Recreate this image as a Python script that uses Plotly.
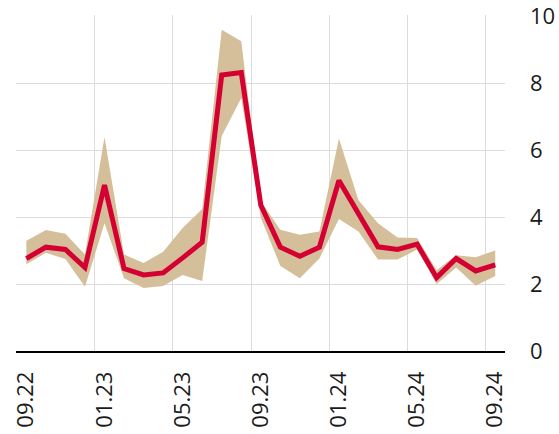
import plotly.graph_objects as go

months = ["09.22","10.22","11.22","12.22","01.23","02.23","03.23","04.23","05.23","06.23",
          "07.23","08.23","09.23","10.23","11.23","12.23","01.24","02.24","03.24","04.24",
          "05.24","06.24","07.24","08.24","09.24"]
value = [2.76,3.10,3.03,2.49,4.95,2.46,2.27,2.33,2.78,3.25,
         8.24,8.31,4.36,3.10,2.83,3.10,5.09,4.11,3.11,3.03,
         3.19,2.19,2.76,2.39,2.57]
upper = [3.29,3.61,3.50,2.88,6.39,2.88,2.63,2.96,3.67,4.24,
         9.59,9.25,4.47,3.62,3.47,3.57,6.34,4.50,3.81,3.39,
         3.37,2.41,2.86,2.80,3.00]
lower = [2.59,2.93,2.75,1.92,3.81,2.17,1.88,1.94,2.27,2.09,
         6.42,7.55,3.98,2.54,2.17,2.76,3.94,3.57,2.73,2.73,
         3.03,2.00,2.49,1.95,2.24]
label_idx = [0,4,8,12,16,20,24]
ytick_vals = [0,2,4,6,8,10]

x = list(range(len(months)))
band = "#d5bf9b"
red = "#d50032"
grid = "#dcdcdc"

fig = go.Figure()
fig.add_trace(go.Scatter(x=x, y=upper, mode="lines", line=dict(width=0, color=band),
                         hoverinfo="skip", showlegend=False))
fig.add_trace(go.Scatter(x=x, y=lower, mode="lines", line=dict(width=0, color=band),
                         fill="tonexty", fillcolor=band, hoverinfo="skip", showlegend=False))
fig.add_trace(go.Scatter(x=x, y=value, mode="lines", line=dict(width=5, color=red),
                         showlegend=False))

fig.update_layout(
    width=559, height=434,
    margin=dict(l=16, r=54, t=15, b=83),
    paper_bgcolor="white", plot_bgcolor="white",
    font=dict(family="Open Sans", size=22, color="#1a1a1a"),
    xaxis=dict(
        range=[-0.53, len(months) - 0.5],
        automargin=False,
        tickmode="array",
        tickvals=[x[i] for i in label_idx],
        ticktext=[months[i] for i in label_idx],
        tickangle=-90,
        showgrid=False,
        zeroline=False,
        showline=True, linecolor="black", linewidth=1.5,
        ticks="", ticklabelstandoff=10,
        ticklabeloverflow="allow",
        minor=dict(tick0=-0.5, dtick=4, showgrid=True, gridcolor=grid, gridwidth=1, ticks=""),
    ),
    yaxis=dict(
        range=[0, 10.03],
        automargin=False,
        side="right",
        tickmode="array",
        tickvals=ytick_vals,
        showgrid=True, gridcolor=grid, gridwidth=1,
        zeroline=False,
        ticks="", ticklabelstandoff=24,
        ticklabeloverflow="allow",
    ),
)

fig.write_html("out.html", config={"displayModeBar": False},
               post_script="document.body.style.margin='0';document.body.style.overflow='hidden';")
